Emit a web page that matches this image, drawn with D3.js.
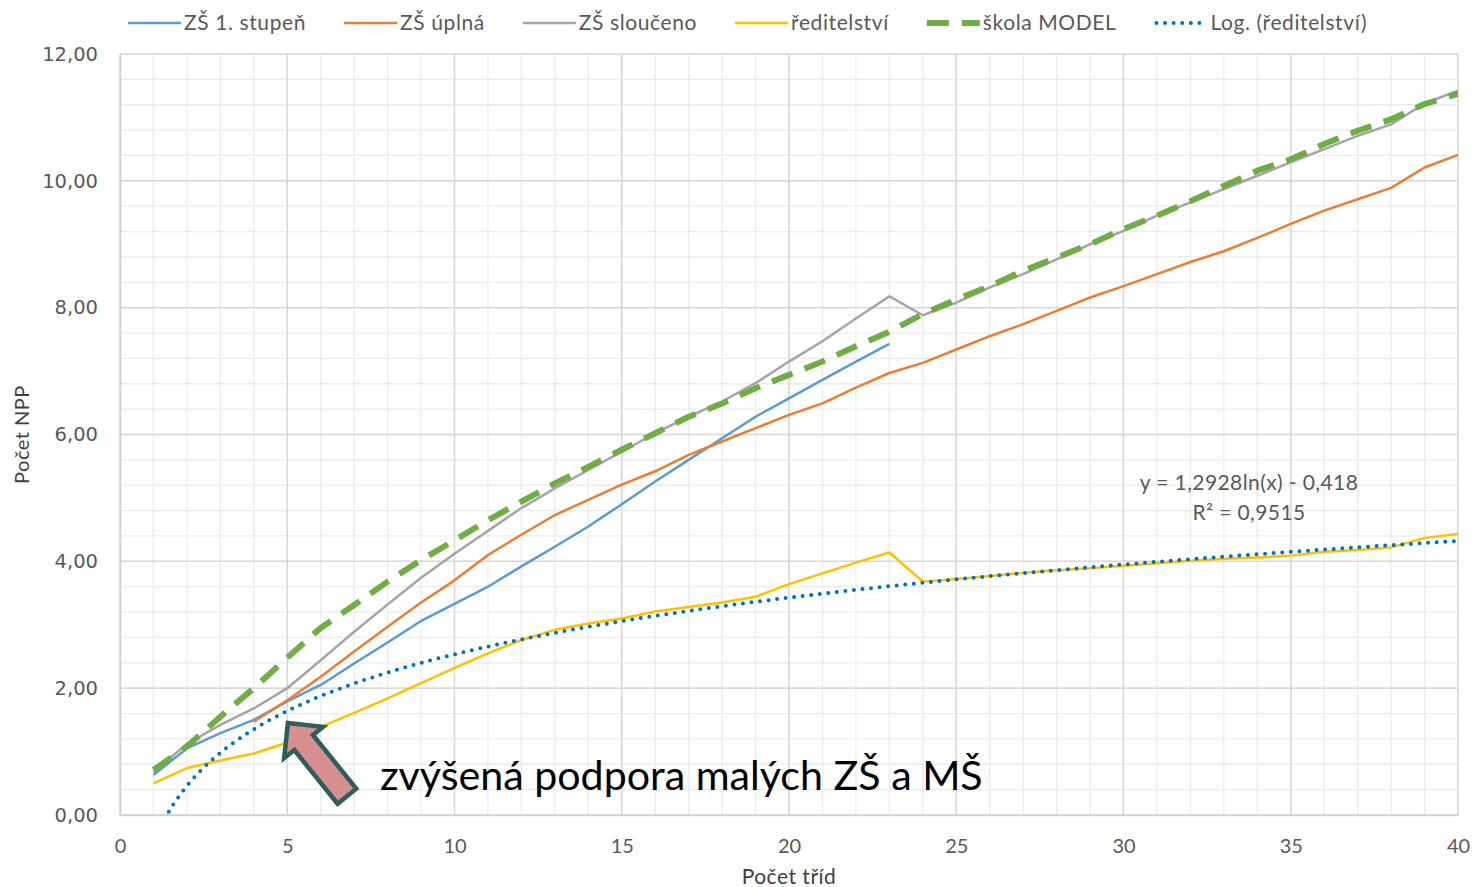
<!DOCTYPE html>
<html>
<head>
<meta charset="utf-8">
<script src="https://cdn.jsdelivr.net/npm/d3@7/dist/d3.min.js"></script>
<style>
  body { margin: 0; background: #ffffff; }
  text { font-family: Lato, "Open Sans", sans-serif; }
</style>
</head>
<body>
<svg id="chart" width="1474" height="887"></svg>
<script>
// počet tříd on the x axis
var classes = d3.range(1, 41);

// values, one per class count (null = no point)
var zs1 = [0.63, 1.05, 1.29, 1.50, 1.79, 2.05, 2.39, 2.72, 3.06, 3.33,
           3.60, 3.92, 4.23, 4.55, 4.90, 5.26, 5.60, 5.94, 6.28, 6.57,
           6.86, 7.15, 7.43];
var zsFull = [null, null, null, 1.47, 1.81, 2.18, 2.58, 2.97, 3.35, 3.70,
              4.10, 4.42, 4.73, 4.97, 5.21, 5.42, 5.68, 5.89, 6.10, 6.31,
              6.49, 6.74, 6.97, 7.13, 7.34, 7.55, 7.74, 7.95, 8.16, 8.34,
              8.53, 8.72, 8.89, 9.10, 9.32, 9.53, 9.71, 9.89, 10.21, 10.41];
var zsMerged = [0.68, 1.12, 1.42, 1.68, 2.00, 2.44, 2.89, 3.32, 3.74, 4.12,
                4.48, 4.84, 5.15, 5.44, 5.73, 6.02, 6.28, 6.52, 6.81, 7.15,
                7.47, 7.83, 8.18, 7.88, 8.08, 8.32, 8.53, 8.76, 9.00, 9.21,
                9.45, 9.66, 9.87, 10.08, 10.29, 10.50, 10.71, 10.89, 11.22, 11.42];
var director = [0.50, 0.74, 0.86, 0.97, 1.14, 1.39, 1.61, 1.84, 2.08, 2.32,
                2.55, 2.76, 2.92, 3.02, 3.10, 3.21, 3.28, 3.35, 3.44, 3.64,
                3.81, 3.98, 4.14, 3.68, 3.72, 3.77, 3.82, 3.86, 3.89, 3.93,
                3.97, 4.01, 4.04, 4.06, 4.09, 4.15, 4.18, 4.22, 4.37, 4.43];
var model = [0.71, 1.08, 1.55, 2.00, 2.48, 2.95, 3.31, 3.68, 4.02, 4.33,
             4.65, 4.94, 5.23, 5.49, 5.76, 6.02, 6.28, 6.49, 6.73, 6.94,
             7.15, 7.39, 7.62, 7.90, 8.13, 8.34, 8.58, 8.79, 9.00, 9.24,
             9.45, 9.68, 9.92, 10.16, 10.34, 10.58, 10.79, 10.97, 11.21, 11.37];

var seriesNames = ["ZŠ 1. stupeň", "ZŠ úplná", "ZŠ sloučeno", "ředitelství", "škola MODEL", "Log. (ředitelství)"];
var xTicks = [0, 5, 10, 15, 20, 25, 30, 35, 40];
var yTicks = [0, 2, 4, 6, 8, 10, 12];
var trendLabel = ["y = 1,2928ln(x) - 0,418", "R² = 0,9515"];
var noteText = "zvýšená podpora malých ZŠ a MŠ";
var xTitle = "Počet tříd";
var yTitle = "Počet NPP";

var svg = d3.select("#chart");

var x = d3.scaleLinear().domain([0, 40]).range([120, 1458]);
var y = d3.scaleLinear().domain([0, 12]).range([815, 54]);

svg.append("defs").append("clipPath").attr("id", "plotClip")
    .append("rect")
    .attr("x", x(0)).attr("y", y(12))
    .attr("width", x(40) - x(0)).attr("height", y(0) - y(12));

// grid - minor first, major on top
var grid = svg.append("g").attr("class", "grid");
grid.selectAll("line.vmin").data(d3.range(0, 41))
    .enter().append("line")
    .attr("x1", function(d) { return x(d); }).attr("x2", function(d) { return x(d); })
    .attr("y1", y(0)).attr("y2", y(12))
    .attr("stroke", "#ececec").attr("stroke-width", 1.3);
grid.selectAll("line.hmin").data(d3.range(0, 31).map(function(i) { return i * 0.4; }))
    .enter().append("line")
    .attr("x1", x(0)).attr("x2", x(40))
    .attr("y1", function(d) { return y(d); }).attr("y2", function(d) { return y(d); })
    .attr("stroke", "#ececec").attr("stroke-width", 1.3);
grid.selectAll("line.vmaj").data(xTicks)
    .enter().append("line")
    .attr("x1", function(d) { return x(d); }).attr("x2", function(d) { return x(d); })
    .attr("y1", y(0)).attr("y2", y(12))
    .attr("stroke", "#d9d9d9").attr("stroke-width", 1.5);
grid.selectAll("line.hmaj").data(yTicks)
    .enter().append("line")
    .attr("x1", x(0)).attr("x2", x(40))
    .attr("y1", function(d) { return y(d); }).attr("y2", function(d) { return y(d); })
    .attr("stroke", "#d9d9d9").attr("stroke-width", 1.5);

// axes
var xAxis = svg.append("g")
    .attr("transform", "translate(0," + y(0) + ")")
    .call(d3.axisBottom(x).tickValues(xTicks).tickSize(0).tickPadding(24));
xAxis.select(".domain").attr("stroke", "#d0d0d0").attr("stroke-width", 1.5);
xAxis.selectAll("text")
    .attr("fill", "#595959").style("font-size", "20px");

var yAxis = svg.append("g")
    .attr("transform", "translate(" + x(0) + ",0)")
    .call(d3.axisLeft(y).tickValues(yTicks).tickSize(0).tickPadding(22)
        .tickFormat(function(d) { return d.toFixed(2).replace(".", ","); }));
yAxis.select(".domain").attr("stroke", "#d0d0d0").attr("stroke-width", 1.5);
yAxis.selectAll("text")
    .attr("fill", "#595959")
    .style("font-family", "'DejaVu Sans', sans-serif")
    .style("font-size", "19.5px");

svg.append("text")
    .attr("x", (x(0) + x(40)) / 2).attr("y", 884)
    .attr("text-anchor", "middle")
    .attr("fill", "#404040").style("font-size", "21px")
    .style("letter-spacing", "0.5px")
    .text(xTitle);
svg.append("text")
    .attr("transform", "translate(29," + y(6) + ") rotate(-90)")
    .attr("text-anchor", "middle")
    .attr("fill", "#404040").style("font-size", "20px")
    .style("letter-spacing", "0.5px")
    .text(yTitle);

// series
var styles = [
    { values: zs1, color: "#5b9bd5", width: 2.5, dash: null },
    { values: zsFull, color: "#ed7d31", width: 2.5, dash: null },
    { values: zsMerged, color: "#a5a5a5", width: 2.5, dash: null },
    { values: director, color: "#ffc000", width: 2.5, dash: null },
    { values: model, color: "#70ad47", width: 6, dash: "22,13" }
];

var line = d3.line()
    .defined(function(d) { return d.v != null; })
    .x(function(d) { return x(d.c); })
    .y(function(d) { return y(d.v); });

var plot = svg.append("g").attr("clip-path", "url(#plotClip)");

styles.forEach(function(s) {
    var pts = s.values.map(function(v, i) { return { c: classes[i], v: v }; });
    plot.append("path")
        .datum(pts)
        .attr("d", line)
        .attr("fill", "none")
        .attr("stroke", s.color)
        .attr("stroke-width", s.width)
        .attr("stroke-linejoin", "round")
        .attr("stroke-dasharray", s.dash);
});

// logarithmic trendline of ředitelství (least squares on ln x)
var lx = classes.map(Math.log);
var mx = d3.mean(lx), my = d3.mean(director);
var sxy = d3.sum(lx, function(l, i) { return (l - mx) * (director[i] - my); });
var sxx = d3.sum(lx, function(l) { return (l - mx) * (l - mx); });
var ta = sxy / sxx, tb = my - ta * mx;
var trendPts = d3.range(1, 40.0001, 0.1).map(function(c) { return { c: c, v: ta * Math.log(c) + tb }; });
plot.append("path")
    .datum(trendPts)
    .attr("d", line)
    .attr("fill", "none")
    .attr("stroke", "#0070c0")
    .attr("stroke-width", 4)
    .attr("stroke-linecap", "round")
    .attr("stroke-dasharray", "0,8.6");

// trendline equation
var eq = svg.append("text")
    .attr("text-anchor", "middle")
    .attr("fill", "#595959")
    .style("font-size", "21px")
    .style("letter-spacing", "0.4px");
eq.append("tspan").attr("x", 1249).attr("y", 490).text(trendLabel[0]);
eq.append("tspan").attr("x", 1249).attr("y", 520).text(trendLabel[1]);

// block arrow + note
var arrow = svg.append("g")
    .attr("transform", "translate(" + x(5.02) + "," + y(1.45) + ") rotate(-38.9)");
arrow.append("path")
    .attr("d", "M0,0 L25,25 L12,25 L12,94 L-12,94 L-12,25 L-25,25 Z")
    .attr("fill", "#d48f8e")
    .attr("stroke", "#2f5d5e")
    .attr("stroke-width", 4.5)
    .attr("stroke-linejoin", "miter");

var note = svg.append("text")
    .attr("x", 380).attr("y", 790)
    .attr("fill", "#000000")
    .style("font-size", "40px")
    .text(noteText);
var nw = note.node().getComputedTextLength();
note.style("font-size", (40 * 603 / nw) + "px");

// legend
var legendItems = [
    { color: "#5b9bd5", width: 2.5, dash: null, cap: "butt" },
    { color: "#ed7d31", width: 2.5, dash: null, cap: "butt" },
    { color: "#a5a5a5", width: 2.5, dash: null, cap: "butt" },
    { color: "#ffc000", width: 2.5, dash: null, cap: "butt" },
    { color: "#70ad47", width: 6, dash: "22,13", cap: "butt" },
    { color: "#0070c0", width: 4, dash: "0,8.6", cap: "round" }
];
var legend = svg.append("g");
var lxPos = 128;
legendItems.forEach(function(it, i) {
    legend.append("line")
        .attr("x1", lxPos + (it.cap == "round" ? 2 : 0)).attr("x2", lxPos + 53)
        .attr("y1", 23).attr("y2", 23)
        .attr("stroke", it.color)
        .attr("stroke-width", it.width)
        .attr("stroke-linecap", it.cap)
        .attr("stroke-dasharray", it.dash);
    var t = legend.append("text")
        .attr("x", lxPos + 56).attr("y", 30)
        .attr("fill", "#595959")
        .style("font-size", "21px")
        .style("letter-spacing", "0.6px")
        .text(seriesNames[i]);
    lxPos += 56 + t.node().getComputedTextLength() + 38;
});
</script>
</body>
</html>
